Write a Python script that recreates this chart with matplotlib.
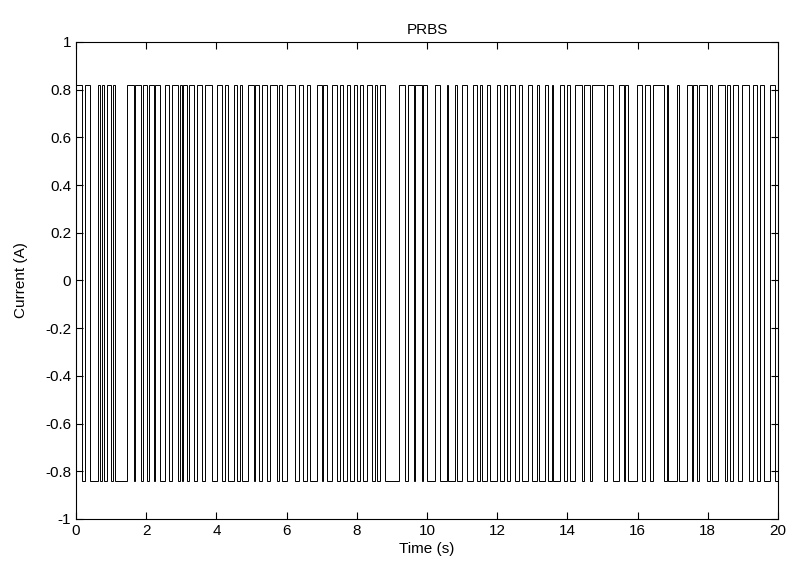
import matplotlib
matplotlib.use("Agg")
import matplotlib.pyplot as plt
import numpy as np

# switching instants of the PRBS (s)
switch_times = [
    0.17, 0.26, 0.40, 0.62, 0.69, 0.74, 0.81, 0.88, 1.00, 1.05, 1.12, 1.45,
    1.64, 1.69, 1.86, 1.92, 2.02, 2.07, 2.21, 2.26, 2.40, 2.54, 2.64, 2.73,
    2.92, 2.97, 3.02, 3.06, 3.16, 3.21, 3.35, 3.44, 3.59, 3.68, 3.87, 4.01,
    4.16, 4.25, 4.34, 4.49, 4.58, 4.68, 4.73, 4.91, 5.06, 5.11, 5.20, 5.30,
    5.44, 5.53, 5.72, 5.77, 5.87, 6.01, 6.25, 6.34, 6.48, 6.58, 6.67, 6.86,
    7.01, 7.05, 7.15, 7.29, 7.43, 7.53, 7.62, 7.72, 7.81, 7.91, 8.00, 8.10,
    8.19, 8.29, 8.43, 8.52, 8.57, 8.67, 8.81, 9.19, 9.38, 9.47, 9.62, 9.66,
    9.85, 9.90, 10.00, 10.23, 10.38, 10.57, 10.61, 10.80, 10.85, 10.99, 11.14,
    11.32, 11.42, 11.52, 11.56, 11.71, 11.80, 11.99, 12.09, 12.18, 12.28,
    12.37, 12.51, 12.61, 12.70, 12.89, 12.99, 13.13, 13.18, 13.37, 13.46,
    13.56, 13.60, 13.79, 13.89, 13.99, 14.08, 14.22, 14.41, 14.46, 14.65,
    14.70, 15.03, 15.13, 15.31, 15.46, 15.60, 15.65, 15.74, 15.98, 16.12,
    16.22, 16.36, 16.45, 16.74, 16.83, 16.88, 17.12, 17.17, 17.40, 17.55,
    17.59, 17.69, 17.74, 17.97, 18.07, 18.12, 18.30, 18.50, 18.54, 18.64,
    18.73, 18.87, 18.97, 19.16, 19.30, 19.40, 19.49, 19.59, 19.78, 19.92,
]
high_level = 0.82
low_level = -0.84
t_end = 20.0

edges = np.concatenate([[0.0], switch_times, [t_end]])
levels = [high_level if i % 2 == 0 else low_level for i in range(len(edges) - 1)]

plt.rcParams['font.family'] = ['Liberation Sans', 'DejaVu Sans']
fig = plt.figure(figsize=(7.9, 5.63), dpi=100)
ax = fig.add_axes([0.0962, 0.0782, 0.8886, 0.8472])

ax.stairs(levels, edges, color='black', linewidth=0.7, baseline=None)

ax.set_xlim(0, 20)
ax.set_ylim(-1, 1)
ax.set_xticks(np.arange(0, 21, 2))
ax.set_yticks(np.round(np.arange(-1, 1.01, 0.2), 1))
ax.set_yticklabels(['-1', '-0.8', '-0.6', '-0.4', '-0.2', '0', '0.2', '0.4', '0.6', '0.8', '1'])
ax.tick_params(direction='in', top=True, right=True, labelsize=11, length=5)
ax.set_title('PRBS', fontsize=11)
ax.set_xlabel('Time (s)', fontsize=11, labelpad=3)
ax.set_ylabel('Current (A)', fontsize=11, labelpad=12)

fig.savefig('out.png', dpi=100)
